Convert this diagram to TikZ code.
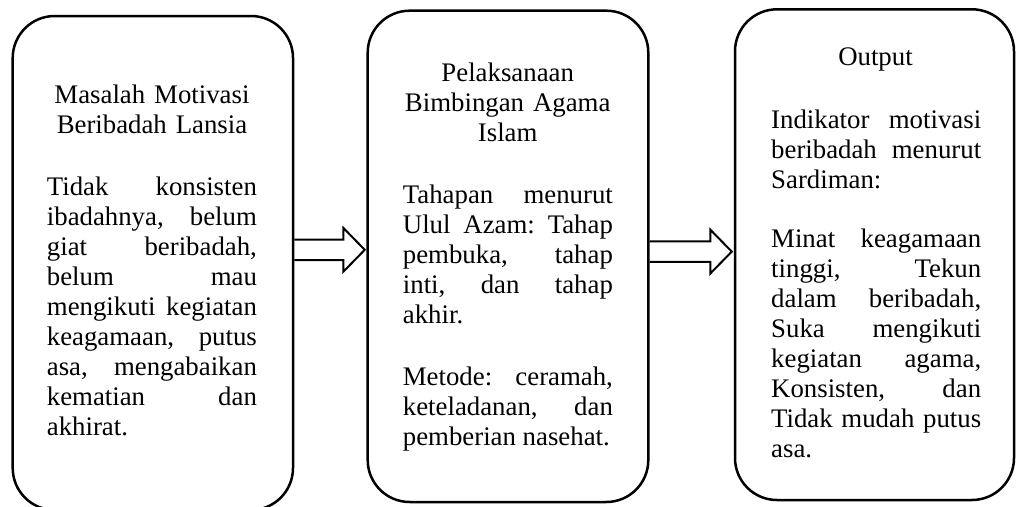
\documentclass[tikz,border=0pt]{standalone}
\usepackage{fontspec}
\setmainfont{Liberation Serif}
\usetikzlibrary{calc}
\newcommand\txtsetup{\fontsize{26.8}{30.1}\selectfont\frenchspacing\tolerance=10000 \hbadness=10000 }
\newcommand\hollowarrow[2]{%
  \draw[harrow] let \p1=(#1), \p2=(#2) in
    (\x1,\y1+10.2pt) -- (\x2-21.3pt,\y1+10.2pt) -- (\x2-21.3pt,\y1+21.8pt) --
    (\x2,\y1) -- (\x2-21.3pt,\y1-21.8pt) -- (\x2-21.3pt,\y1-10.2pt) -- (\x1,\y1-10.2pt);}
\tikzset{
  box/.style={draw, line width=2.5pt, rounded corners=42pt, inner sep=0pt},
  ttl/.style={anchor=base, align=center, text width=210pt, inner sep=0pt, font=\txtsetup},
  bodytxt/.style={anchor=base west, align=justify, text width=210pt, inner sep=0pt, font=\txtsetup},
  harrow/.style={draw, line width=2pt, line join=miter},
}
\begin{document}
\begin{tikzpicture}[x=1pt,y=-1pt]
\useasboundingbox (0,0) rectangle (1017,506);
% boxes
\node[box, minimum width=280.3pt, minimum height=494pt] (b1) at (152.85,263) {};
\node[box, minimum width=280.6pt, minimum height=491.3pt] (b2) at (508,256.35) {};
\node[box, minimum width=279pt, minimum height=490.7pt] (b3) at (874.5,254.65) {};
% box 1 text
\node[ttl] (t1) at (152,103) {Masalah Motivasi\\Beribadah Lansia};
\node[bodytxt] (p1) at (46.7,195) {Tidak konsisten\linebreak ibadahnya, belum\linebreak giat beribadah,\linebreak belum mau\linebreak mengikuti kegiatan\linebreak keagamaan, putus\linebreak asa, mengabaikan\linebreak kematian dan\linebreak akhirat.};
% box 2 text
\node[ttl] (t2) at (507.7,81.7) {Pelaksanaan\\Bimbingan Agama\\Islam};
\node[bodytxt] (p2a) at (402.7,203) {Tahapan menurut\linebreak Ulul Azam: Tahap\linebreak pembuka, tahap\linebreak inti, dan tahap\linebreak akhir.};
\node[bodytxt] (p2b) at (402.7,385) {Metode: ceramah,\linebreak keteladanan, dan\linebreak pemberian nasehat.};
% box 3 text
\node[ttl] (t3) at (875.5,65) {Output};
\node[bodytxt] (p3a) at (771,128) {Indikator motivasi\linebreak beribadah menurut\linebreak Sardiman:};
\node[bodytxt] (p3b) at (771,247) {Minat keagamaan\linebreak tinggi, Tekun\linebreak dalam beribadah,\linebreak Suka mengikuti\linebreak kegiatan agama,\linebreak Konsisten, dan\linebreak Tidak mudah putus\linebreak asa.};
% arrows
\coordinate (a1s) at ($(b1.east)+(0,-13.2)$);
\coordinate (a1e) at ($(b2.west |- a1s)+(-1.7,0)$);
\coordinate (a2s) at ($(b2.east)+(0,-4.75)$);
\coordinate (a2e) at ($(b3.west |- a2s)+(-2,0)$);
\hollowarrow{a1s}{a1e}
\hollowarrow{a2s}{a2e}
\end{tikzpicture}
\end{document}
